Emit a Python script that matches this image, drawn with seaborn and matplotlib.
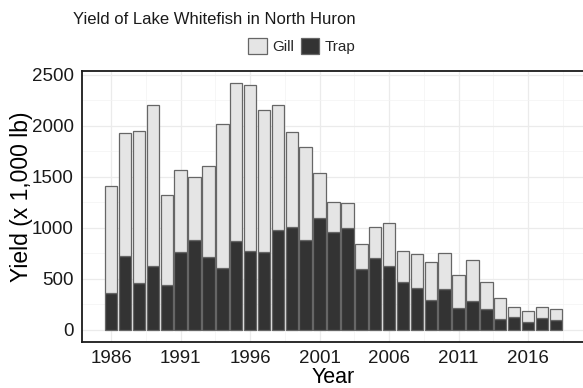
import matplotlib
matplotlib.use("Agg")
import matplotlib.pyplot as plt
from matplotlib.ticker import FixedLocator, MultipleLocator
import pandas as pd
import seaborn as sns

# Commercial yield of lake whitefish (thousands of lb) by gear type
years = list(range(1986, 2019))
trap = [356, 719, 456, 622, 437, 758, 878, 716, 602, 871, 774, 761, 978, 1007,
        884, 1098, 959, 994, 599, 699, 625, 466, 408, 295, 398, 211, 286, 198,
        104, 120, 78, 111, 97]
gill = [1049, 1210, 1496, 1583, 881, 812, 618, 887, 1412, 1547, 1622, 1392,
        1230, 935, 910, 440, 298, 246, 246, 311, 418, 305, 334, 365, 354, 330,
        394, 268, 204, 107, 101, 107, 104]
gears = ["Gill", "Trap"]
gear_colors = {"Gill": "#E5E5E5", "Trap": "#333333"}
year_ticks = [1986, 1991, 1996, 2001, 2006, 2011, 2016]

df = pd.DataFrame({
    "Year": years * 2,
    "Gear": ["Gill"] * len(years) + ["Trap"] * len(years),
    "Yield": gill + trap,
})

sns.set_style("white")
plt.rcParams["font.family"] = ["Liberation Sans", "DejaVu Sans"]

fig = plt.figure(figsize=(5.83, 3.88), dpi=100)
ax = fig.add_axes([82 / 583, 1 - 342 / 388, 503 / 583, (342 - 70.7) / 388])

sns.histplot(data=df, x="Year", weights="Yield", hue="Gear", hue_order=gears,
             multiple="stack", discrete=True, shrink=0.9, palette=gear_colors,
             edgecolor="#666666", linewidth=0.9, alpha=1, ax=ax, zorder=3)

ax.set_xlim(1983.9, 2020.1)
ax.set_ylim(-121, 2541)

ax.xaxis.set_major_locator(FixedLocator(year_ticks))
ax.xaxis.set_minor_locator(FixedLocator([y + 2.5 for y in [1981] + year_ticks]))
ax.yaxis.set_major_locator(MultipleLocator(500))
ax.yaxis.set_minor_locator(MultipleLocator(250))
ax.grid(which="major", color="#EBEBEB", linewidth=0.9, zorder=0)
ax.grid(which="minor", color="#F3F3F3", linewidth=0.5, zorder=0)
ax.set_axisbelow(True)

for side in ["left", "bottom", "top", "right"]:
    ax.spines[side].set_visible(True)
    ax.spines[side].set_color("#1a1a1a")
    ax.spines[side].set_linewidth(1.3)

ax.tick_params(axis="both", which="major", direction="out", length=4, width=0.9,
               color="#333333", labelsize=13.5, labelcolor="#1a1a1a", pad=2)
ax.tick_params(axis="both", which="minor", length=0)

ax.set_xlabel("Year", fontsize=15.5, color="#000000", labelpad=0)
ax.set_ylabel("Yield (x 1,000 lb)", fontsize=16.5, color="#000000")
ax.yaxis.set_label_coords(-0.097, 0.535)

sns.move_legend(ax, "center", bbox_to_anchor=(302 / 583, 1 - 46 / 388),
                bbox_transform=fig.transFigure, ncol=2, title=None,
                frameon=False, fontsize=11, handlelength=1.2,
                handleheight=1.3, handletextpad=0.4, columnspacing=0.4,
                borderaxespad=0, borderpad=0)

fig.text(73 / 583, 1 - 24 / 388, "Yield of Lake Whitefish in North Huron",
         fontsize=12, color="#1a1a1a", ha="left", va="baseline")

fig.savefig("out.png", dpi=100)
